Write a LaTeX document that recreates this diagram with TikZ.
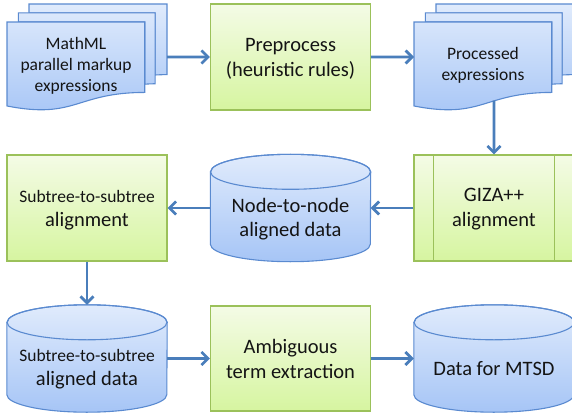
\documentclass[tikz,border=0pt]{standalone}
\usepackage{fontspec}
\setmainfont{Carlito}
\usetikzlibrary{arrows.meta,calc}

\definecolor{blueTop}{HTML}{E0EBFC}
\definecolor{blueBot}{HTML}{A6C5F6}
\definecolor{blueEdge}{HTML}{5A8AD0}
\definecolor{greenTop}{HTML}{F4FBE6}
\definecolor{greenBot}{HTML}{D6F5A0}
\definecolor{greenEdge}{HTML}{9BC15A}
\definecolor{arrowCol}{HTML}{4A7EBB}
\definecolor{textCol}{HTML}{141414}

\tikzset{
  gbox/.style={draw=greenEdge, line width=1.2pt, top color=greenTop, bottom color=greenBot,
    minimum width=160pt, minimum height=106pt, inner sep=0pt},
  canbox/.style={minimum width=160pt, minimum height=107pt, inner sep=0pt},
  blueedge/.style={draw=blueEdge, line width=1.1pt},
  canfill/.style={top color=blueTop, bottom color=blueBot},
  docfill/.style={path picture={\shade[top color=blueTop,bottom color=blueBot] (#1-a) rectangle (#1-b);}},
  lbl/.style={align=center, text=textCol, inner sep=0pt},
  big/.style={font=\fontsize{20.5}{24.5}\selectfont},
  small/.style={font=\fontsize{17.5}{21}\selectfont},
  flow/.style={draw=arrowCol, line width=2.7pt, -{Straight Barb[length=6.5pt,width=13pt]}},
}

% stack of three sheets, drawn in a 100x100 box (back sheet first)
\newcommand\multidoc[1]{%
  \coordinate (#1-a) at (0,0);
  \coordinate (#1-b) at (100,101);
  \draw[blueedge, docfill=#1] (13.76,8.40) -- (13.76,0) -- (100,0) -- (100,66.63)
    .. controls (96.30,66.63) and (92.59,66.99) .. (92.59,66.99) -- (92.59,8.40) -- cycle;
  \draw[blueedge, docfill=#1] (7.09,17.01) -- (7.09,8.40) -- (92.59,8.40) -- (92.59,75.24)
    .. controls (89.34,75.24) and (86.09,75.70) .. (86.09,75.70) -- (86.09,17.01) -- cycle;
  \draw[blueedge, docfill=#1] (0,96.21) .. controls (43.05,108.99) and (43.05,83.44) .. (86.09,83.44)
    -- (86.09,17.01) -- (0,17.01) -- cycle;
  \coordinate (#1-e) at (100,50);
  \coordinate (#1-w) at (0,50);
  \coordinate (#1-s) at (50,91.2);
}

% database drum around a named node
\newcommand\candraw[1]{%
  \path[canfill, blueedge] ($(#1.north west)+(0,17.5)$) -- ($(#1.south west)+(0,-17.5)$)
    arc[start angle=180, end angle=360, x radius=80pt, y radius=17.5pt]
    -- ($(#1.north east)+(0,17.5)$)
    arc[start angle=0, end angle=180, x radius=80pt, y radius=17.5pt] -- cycle;
  \draw[blueedge] ($(#1.north)+(0,17.5)$) ellipse[x radius=80pt, y radius=17.5pt];
}

\begin{document}
\begin{tikzpicture}[x=1pt, y=-1pt]
\useasboundingbox (0,0) rectangle (572,414);
\clip (0,0) rectangle (572,414);

% input sheets
\begin{scope}[shift={(7,4)}, x=1.6pt, y=-1.06pt]
  \multidoc{md1}
\end{scope}
\node[lbl, small] (md1-t) at (76,66) {MathML\\parallel markup\\expressions};

% preprocessing
\node[gbox] (pre) at (290.5,57) {};
\node[lbl, big] (pre-t) at (290.5,59) {Preprocess\\(heuristic rules)};

% processed sheets
\begin{scope}[shift={(414,4)}, x=1.6pt, y=-1.06pt]
  \multidoc{pd}
\end{scope}
\node[lbl, small] (pd-t) at (483,65.5) {Processed\\expressions};

% GIZA++ predefined process
\node[gbox] (giza) at (494,208) {};
\draw[draw=greenEdge, line width=1.2pt] ($(giza.north west)+(20,0)$) -- ($(giza.south west)+(20,0)$);
\draw[draw=greenEdge, line width=1.2pt] ($(giza.north east)+(-20,0)$) -- ($(giza.south east)+(-20,0)$);
\node[lbl, big] (giza-t) at (494,209) {GIZA++\\alignment};

% node-to-node data
\node[canbox] (n2n) at (290.5,208) {};
\candraw{n2n}
\node[lbl, big] (n2n-t) at (290.5,219) {Node-to-node\\aligned data};

% subtree alignment
\node[gbox] (sub) at (87,208) {};
\node[lbl, big] (sub-t) at (87,210) {{\fontsize{17.5}{21}\selectfont Subtree-to-subtree}\\alignment};

% subtree data
\node[canbox] (subd) at (87,358.5) {};
\candraw{subd}
\node[lbl, big] (subd-t) at (87,369) {{\fontsize{17.5}{21}\selectfont Subtree-to-subtree}\\aligned data};

% term extraction
\node[gbox, minimum height=105pt] (amb) at (290.5,358.5) {};
\node[lbl, big] (amb-t) at (290.5,359) {Ambiguous\\term extraction};

% output data
\node[canbox] (mtsd) at (494,358.5) {};
\candraw{mtsd}
\node[lbl, big] (mtsd-t) at (494,368.5) {Data for MTSD};

% flow
\draw[flow] (md1-e) -- (pre.west);
\draw[flow] (pre.east) -- (pd-w);
\draw[flow] (pd-s) -- (giza.north);
\draw[flow] (giza.west) -- (n2n.east);
\draw[flow] (n2n.west) -- (sub.east);
\draw[flow] (sub.south) -- (subd.north);
\draw[flow] (subd.east) -- (amb.west);
\draw[flow] (amb.east) -- (mtsd.west);
\end{tikzpicture}
\end{document}
